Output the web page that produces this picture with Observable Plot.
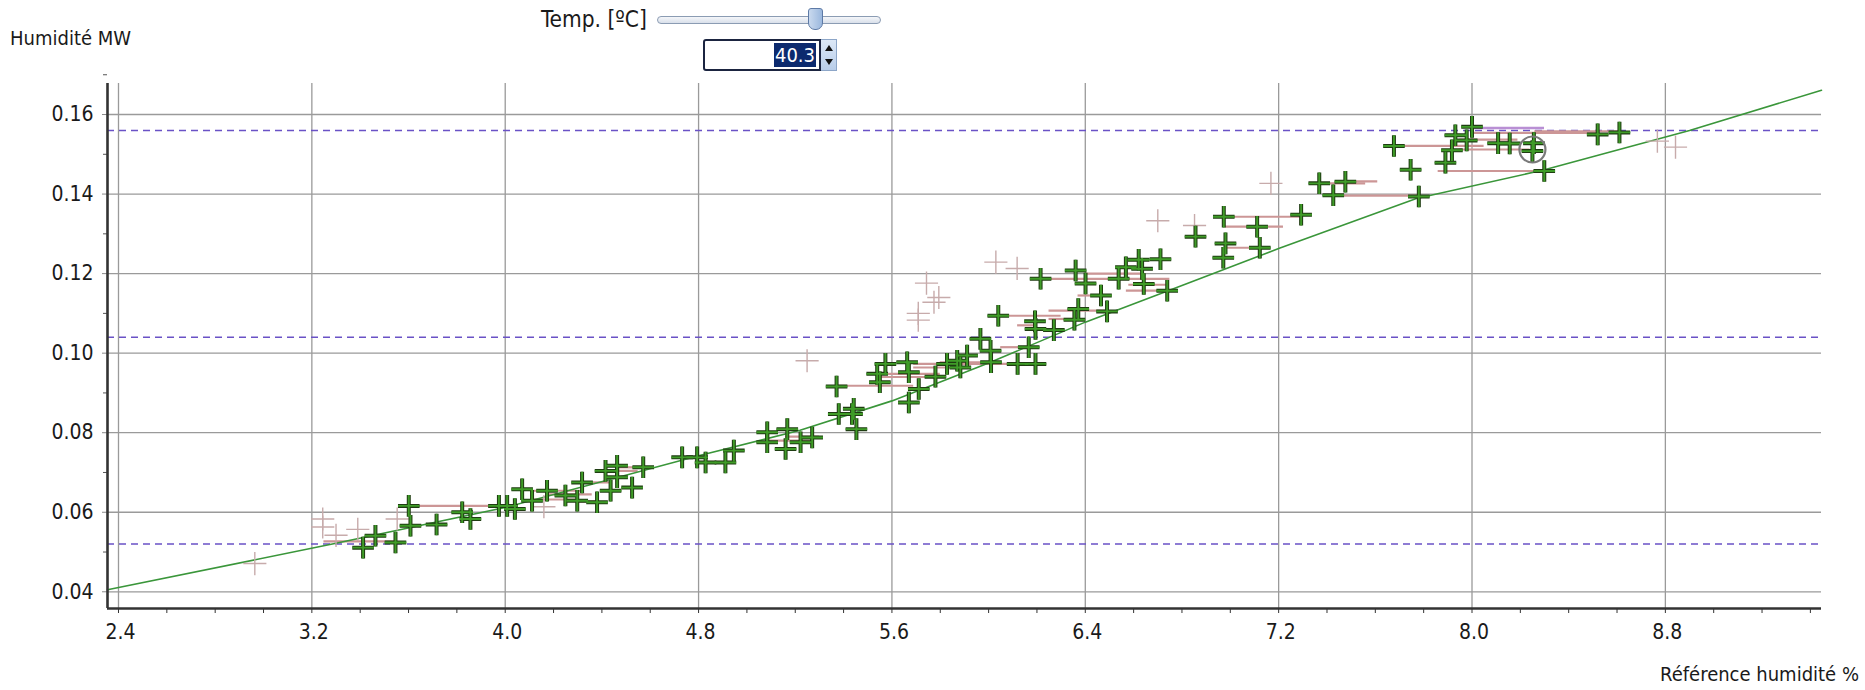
<!DOCTYPE html>
<html>
<head>
<meta charset="utf-8">
<script src="https://cdn.jsdelivr.net/npm/d3@7"></script>
<script src="https://cdn.jsdelivr.net/npm/@observablehq/plot@0.6"></script>
<style>
  html, body { margin: 0; padding: 0; background: #fff; }
  body { width: 1865px; height: 690px; overflow: hidden;
         font-family: "DejaVu Sans Condensed", "Liberation Sans Narrow", "DejaVu Sans", sans-serif; color: #1a1a1a; }
  #hdr { position: relative; height: 70px; }
  .abs { position: absolute; white-space: nowrap; }
  #ylab { left: 10px; top: 26px; font-size: 20px; }
  #tlab { left: 541px; top: 6px; font-size: 22.5px; }
  #track { left: 657px; top: 16px; width: 222px; height: 6px; border: 1px solid #8b9cb3; border-radius: 4px;
           background: linear-gradient(#f4f6f9, #d9e0ea); }
  #thumb { left: 808px; top: 8px; width: 13px; height: 20px; border: 1px solid #5d7aa6; border-radius: 3px 3px 7px 7px;
           background: linear-gradient(90deg, #c9d9ee, #9bb8de); }
  #box { left: 703px; top: 39px; width: 114px; height: 28px; border: 2px solid #1b2440; border-radius: 3px 0 0 3px;
         background: #fff; }
  #val { position: absolute; right: 3px; top: 2px; height: 24px; line-height: 24px; font-size: 20px; padding: 0 1px;
         background: #0c2a6e; color: #fff; }
  #spin { left: 821px; top: 39px; width: 15px; height: 30px; border: 1px solid #8da6c8; border-left: none;
          background: linear-gradient(#dce8f7, #b8cde9); }
  .tri { position: absolute; left: 4px; width: 0; height: 0; border-left: 4px solid transparent; border-right: 4px solid transparent; }
  #up { top: 5px; border-bottom: 6px solid #111; }
  #dn { bottom: 5px; border-top: 6px solid #111; }
  #xlab { position: absolute; right: 6px; top: 662px; font-size: 20px; }
</style>
</head>
<body>
<div id="hdr">
  <div class="abs" id="ylab">Humidité MW</div>
  <div class="abs" id="tlab">Temp. [ºC]</div>
  <div class="abs" id="track"></div>
  <div class="abs" id="thumb"></div>
  <div class="abs" id="box"><span id="val">40.3</span></div>
  <div class="abs" id="spin"><div class="tri" id="up"></div><div class="tri" id="dn"></div></div>
</div>
<div id="chart"></div>
<div id="xlab">Référence humidité %</div>
<script>
// ---- tick labels ----
const xTicks = [2.4, 3.2, 4.0, 4.8, 5.6, 6.4, 7.2, 8.0, 8.8];
const yTicks = [0.04, 0.06, 0.08, 0.10, 0.12, 0.14, 0.16];

// ---- limit lines (dashed) ----
const limitY = [0.052, 0.104, 0.156];

// ---- calibration curve ----
const curveX = [2.3545, 3.3, 4.0, 4.8, 5.22, 5.6, 6.0, 6.4, 6.8, 7.2, 7.77, 8.3, 8.9, 9.446];
const curveY = [0.0405, 0.0522, 0.0612, 0.0742, 0.0806, 0.0880, 0.0975, 0.1078, 0.1170, 0.1263, 0.1389, 0.1461, 0.1560, 0.1661];

// ---- measured points (current temperature) ----
const ptX = [3.412, 3.463, 3.546, 3.601, 3.608, 3.716, 3.822, 3.856, 3.974, 4.008, 4.040, 4.070, 4.111, 4.173, 4.249, 4.298,
  4.318, 4.380, 4.415, 4.436, 4.463, 4.463, 4.525, 4.571, 4.732, 4.794, 4.829, 4.911, 4.946, 5.084, 5.084, 5.167, 5.160,
  5.222, 5.270, 5.371, 5.380, 5.435, 5.442, 5.453, 5.539, 5.550, 5.573, 5.663, 5.670, 5.670, 5.711, 5.780, 5.828, 5.870,
  5.883, 5.911, 5.966, 6.008, 6.010, 6.040, 6.120, 6.166, 6.192, 6.194, 6.194, 6.215, 6.270, 6.355, 6.360, 6.371, 6.401,
  6.465, 6.490, 6.538, 6.568, 6.621, 6.635, 6.642, 6.711, 6.739, 6.856, 6.973, 6.980, 6.971, 7.111, 7.122, 7.293, 7.368,
  7.426, 7.476, 7.677, 7.746, 7.780, 7.890, 7.917, 7.931, 7.978, 8.000, 8.108, 8.156, 8.256, 8.250, 8.299, 8.520, 8.610];
const ptY = [0.0511, 0.0541, 0.0524, 0.0616, 0.0566, 0.0569, 0.0600, 0.0583, 0.0616, 0.0616, 0.0608, 0.0658, 0.0629, 0.0654, 0.0642, 0.0629,
  0.0675, 0.0625, 0.0704, 0.0654, 0.0717, 0.0688, 0.0662, 0.0713, 0.0738, 0.0738, 0.0725, 0.0725, 0.0755, 0.0801, 0.0776, 0.0809, 0.0759,
  0.0776, 0.0788, 0.0916, 0.0847, 0.0847, 0.0860, 0.0809, 0.0948, 0.0927, 0.0973, 0.0977, 0.0952, 0.0876, 0.0910, 0.0941, 0.0973, 0.0981,
  0.0964, 0.0994, 0.1036, 0.1006, 0.0977, 0.1094, 0.0973, 0.1015, 0.1080, 0.1061, 0.0973, 0.1187, 0.1058, 0.1084, 0.1208, 0.1111, 0.1175,
  0.1145, 0.1105, 0.1187, 0.1216, 0.1235, 0.1212, 0.1174, 0.1236, 0.1157, 0.1293, 0.1343, 0.1276, 0.1240, 0.1318, 0.1265, 0.1348, 0.1427,
  0.1397, 0.1431, 0.1521, 0.1461, 0.1394, 0.1479, 0.1510, 0.1548, 0.1535, 0.1569, 0.1528, 0.1527, 0.1528, 0.1508, 0.1458, 0.1550, 0.1555];

// ---- other-temperature points (faint) ----
const faintX = [2.964, 3.245, 3.245, 3.300, 3.390, 3.553, 4.160, 5.249, 5.709, 5.709, 5.774, 5.794, 5.743, 6.030, 6.118, 6.700, 6.852, 7.168, 8.767, 8.842];
const faintY = [0.0471, 0.0583, 0.0563, 0.0542, 0.0557, 0.0583, 0.0614, 0.0981, 0.1100, 0.1083, 0.1128, 0.1140, 0.1176, 0.1229, 0.1213, 0.1333, 0.1321, 0.1427, 0.1533, 0.1518];

// ---- temperature shift segments ----
const segY  = [0.0527, 0.0616, 0.0654, 0.0645, 0.0632, 0.0627, 0.0675, 0.0713, 0.0704, 0.0727, 0.0780, 0.0790,
  0.0918, 0.0948, 0.0964, 0.0973, 0.0977, 0.0940, 0.1015, 0.1094, 0.1107, 0.1070, 0.1187, 0.1200, 0.1172, 0.1157, 0.1145, 0.1086,
  0.1343, 0.1318, 0.1265, 0.1427, 0.1396, 0.1458, 0.1521, 0.1554, 0.1558, 0.1537, 0.1512, 0.1432];
const segX1 = [3.25, 3.601, 4.11, 4.17, 4.11, 4.30, 4.32, 4.46, 4.41, 4.79, 5.08, 5.16,
  5.371, 5.539, 5.69, 5.69, 5.80, 5.55, 6.05, 6.04, 6.25, 6.12, 6.215, 6.40, 6.58, 6.57, 6.37, 6.25,
  6.973, 6.98, 6.98, 7.37, 7.42, 7.86, 7.677, 8.00, 8.26, 7.95, 7.95, 7.47];
const segX2 = [3.55, 3.99, 4.32, 4.36, 4.30, 4.38, 4.44, 4.58, 4.55, 4.95, 5.27, 5.30,
  5.69, 5.80, 5.91, 6.19, 6.01, 5.78, 6.17, 6.30, 6.49, 6.19, 6.75, 6.63, 6.74, 6.74, 6.47, 6.36,
  7.293, 7.22, 7.15, 7.56, 7.78, 8.30, 8.05, 8.52, 8.62, 8.19, 8.24, 7.61];
const topSegY = [0.1566], topSegX1 = [8.00], topSegX2 = [8.30];

// ---- highlighted point ----
const selX = [8.25], selY = [0.1512];

const pts = ptX.map((x, i) => ({x, y: ptY[i]}));
const faint = faintX.map((x, i) => ({x, y: faintY[i]}));
const curve = curveX.map((x, i) => ({x, y: curveY[i]}));
const segs = segY.map((y, i) => ({y, x1: segX1[i], x2: segX2[i]}));
const topSegs = topSegY.map((y, i) => ({y, x1: topSegX1[i], x2: topSegX2[i]}));
const sel = selX.map((x, i) => ({x, y: selY[i]}));

const xDom = [2.3545, 9.446], yDom = [0.0358, 0.1678];
const minorX = d3.range(0, 36).map(i => +(2.4 + i * 0.2).toFixed(2));
const minorY = d3.range(0, 7).map(i => +(0.05 + i * 0.02).toFixed(3));

const chart = Plot.plot({
  width: 1865, height: 590,
  marginLeft: 107, marginRight: 44, marginTop: 13, marginBottom: 52,
  x: {domain: xDom},
  y: {domain: yDom},
  style: {fontFamily: "'DejaVu Sans Condensed','Liberation Sans Narrow','DejaVu Sans',sans-serif", fontSize: "21px", color: "#1a1a1a", background: "#fff"},
  marks: [
    Plot.gridX(xTicks, {stroke: "#9a9a9a", strokeOpacity: 1, strokeWidth: 1.3}),
    Plot.gridY(yTicks, {stroke: "#9a9a9a", strokeOpacity: 1, strokeWidth: 1.3}),
    Plot.ruleY(limitY, {stroke: "#6a52c6", strokeWidth: 1.6, strokeDasharray: "7,5"}),
    Plot.ruleY(segs, {y: "y", x1: "x1", x2: "x2", stroke: "#cc9696", strokeWidth: 2.2}),
    Plot.ruleY(topSegs, {y: "y", x1: "x1", x2: "x2", stroke: "#b98fd4", strokeWidth: 2.4}),
    Plot.line(curve, {x: "x", y: "y", stroke: "#3a963a", strokeWidth: 1.6}),
    Plot.dot(faint, {x: "x", y: "y", symbol: "plus", r: 7.5, stroke: "#c7abab", strokeWidth: 1.4}),
    Plot.dot(pts, {x: "x", y: "y", symbol: "plus", r: 7, stroke: "#1f3d12", strokeWidth: 4}),
    Plot.dot(pts, {x: "x", y: "y", symbol: "plus", r: 7, stroke: "#3f9c28", strokeWidth: 1.9}),
    Plot.dot(sel, {x: "x", y: "y", r: 13, stroke: "#7a7a7a", strokeWidth: 2.2, fill: "none"}),
    Plot.axisX(minorX, {tickSize: 5, text: null, stroke: "#333", label: null}),
    Plot.axisX(xTicks, {tickSize: 0, tickPadding: 16, tickFormat: d3.format(".1f"), dx: 2, label: null}),
    Plot.axisY(minorY, {tickSize: 4, text: null, stroke: "#555", label: null}),
    Plot.axisY(yTicks, {tickSize: 5, tickPadding: 9, tickFormat: d3.format(".2f"), stroke: "#8a8a8a", label: null}),
    Plot.ruleX([xDom[0]], {stroke: "#333", strokeWidth: 2.6}),
    Plot.ruleY([yDom[0]], {stroke: "#333", strokeWidth: 2.6})
  ]
});
document.getElementById("chart").appendChild(chart);
</script>
</body>
</html>
